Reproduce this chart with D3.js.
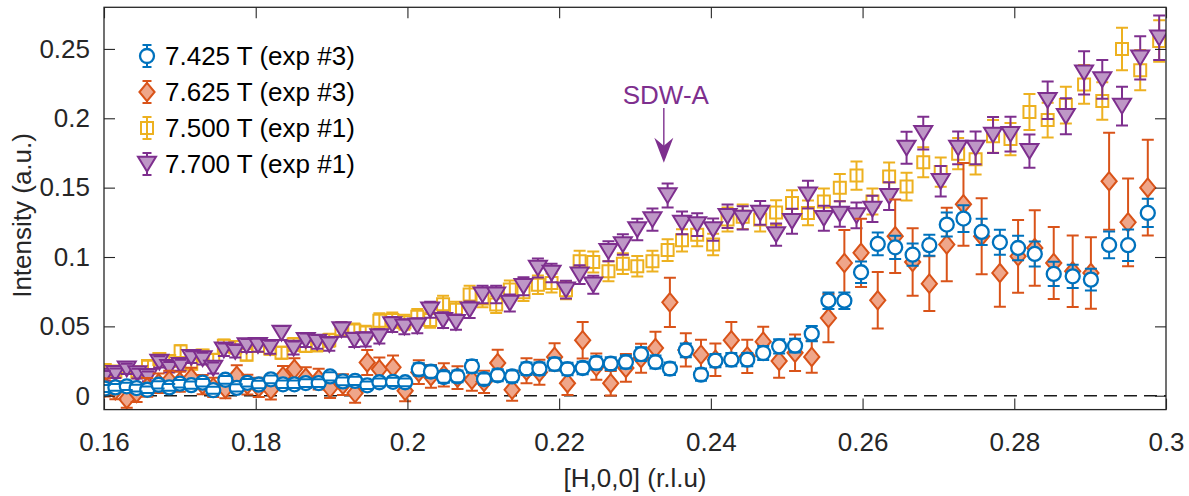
<!DOCTYPE html>
<html>
<head>
<meta charset="utf-8">
<script src="https://cdn.jsdelivr.net/npm/d3@7"></script>
<style>
  html, body { margin: 0; padding: 0; background: #fff; }
  svg text { font-family: "Liberation Sans", Arial, Helvetica, sans-serif; }
</style>
</head>
<body>
<svg id="chart" width="1189" height="496"></svg>
<script>
// H positions of the two scans (r.l.u.)
const hExp3 = [0.1601,0.1615,0.1630,0.1643,0.1657,0.1672,0.1686,0.1700,0.1715,0.1730,
  0.1744,0.1760,0.1775,0.1789,0.1804,0.1820,0.1836,0.1851,0.1866,0.1883,
  0.1898,0.1915,0.1931,0.1947,0.1963,0.1981,0.1997,0.2015,0.2031,0.2048,
  0.2066,0.2085,0.2101,0.2119,0.2138,0.2157,0.2174,0.2194,0.2211,0.2231,
  0.2249,0.2268,0.2288,0.2308,0.2327,0.2346,0.2367,0.2387,0.2406,0.2427,
  0.2448,0.2469,0.2490,0.2511,0.2533,0.2555,0.2576,0.2598,0.2620,0.2643,
  0.2666,0.2688,0.2711,0.2733,0.2757,0.2781,0.2805,0.2827,0.2852,0.2877,
  0.2901,0.2925,0.2950,0.2976];

const hExp1 = [0.1601,0.1615,0.1630,0.1644,0.1658,0.1673,0.1686,0.1701,0.1715,0.1730,
  0.1744,0.1758,0.1773,0.1788,0.1803,0.1819,0.1834,0.1850,0.1866,0.1881,
  0.1897,0.1913,0.1930,0.1945,0.1963,0.1980,0.1996,0.2013,0.2030,0.2047,
  0.2064,0.2082,0.2099,0.2117,0.2135,0.2153,0.2172,0.2190,0.2209,0.2227,
  0.2245,0.2265,0.2284,0.2303,0.2323,0.2343,0.2362,0.2382,0.2403,0.2422,
  0.2442,0.2465,0.2486,0.2507,0.2528,0.2549,0.2570,0.2592,0.2613,0.2635,
  0.2658,0.2680,0.2703,0.2726,0.2749,0.2772,0.2795,0.2820,0.2844,0.2868,
  0.2892,0.2916,0.2942,0.2966,0.2991];

// 7.425 T (exp #3)
const int7425 = [0.0052,0.0060,0.0068,0.0055,0.0043,0.0079,0.0060,0.0087,0.0076,0.0094,
  0.0040,0.0115,0.0056,0.0093,0.0081,0.0118,0.0082,0.0082,0.0091,0.0091,
  0.0139,0.0103,0.0107,0.0075,0.0097,0.0100,0.0097,0.0190,0.0174,0.0135,
  0.0139,0.0212,0.0120,0.0147,0.0139,0.0195,0.0195,0.0228,0.0192,0.0200,
  0.0236,0.0231,0.0243,0.0300,0.0243,0.0195,0.0327,0.0152,0.0253,0.0260,
  0.0260,0.0308,0.0356,0.0361,0.0447,0.0685,0.0685,0.0890,0.1094,0.1070,
  0.1017,0.1085,0.1234,0.1277,0.1181,0.1106,0.1065,0.1022,0.0878,0.0861,
  0.0837,0.1087,0.1085,0.1318];
const err7425 = [0.0025,0.0024,0.0026,0.0025,0.0024,0.0026,0.0025,0.0027,0.0026,0.0027,
  0.0025,0.0028,0.0026,0.0027,0.0027,0.0028,0.0027,0.0027,0.0028,0.0028,
  0.0030,0.0028,0.0029,0.0027,0.0028,0.0029,0.0028,0.0045,0.0044,0.0042,
  0.0042,0.0046,0.0041,0.0043,0.0042,0.0045,0.0045,0.0046,0.0045,0.0045,
  0.0047,0.0046,0.0047,0.0050,0.0047,0.0045,0.0050,0.0044,0.0047,0.0048,
  0.0048,0.0050,0.0052,0.0050,0.0055,0.0060,0.0060,0.0078,0.0082,0.0084,
  0.0080,0.0076,0.0087,0.0096,0.0094,0.0090,0.0088,0.0090,0.0087,0.0084,
  0.0078,0.0096,0.0114,0.0102];

// 7.625 T (exp #3)
const int7625 = [0.0060,0.0040,-0.0024,0.0020,0.0060,0.0090,0.0110,0.0100,0.0130,0.0080,
  0.0060,0.0050,0.0144,0.0080,0.0060,0.0043,0.0140,0.0192,0.0130,0.0120,
  0.0055,0.0080,0.0019,0.0240,0.0190,0.0205,0.0035,0.0170,0.0140,0.0150,
  0.0130,0.0115,0.0100,0.0236,0.0043,0.0180,0.0170,0.0280,0.0090,0.0400,
  0.0210,0.0090,0.0200,0.0270,0.0344,0.0673,0.0330,0.0296,0.0260,0.0400,
  0.0284,0.0390,0.0250,0.0310,0.0280,0.0560,0.0957,0.1030,0.0688,0.1150,
  0.0964,0.0808,0.1090,0.1380,0.1150,0.0885,0.1005,0.1065,0.0957,0.0897,
  0.0885,0.1546,0.1250,0.1500];
const err7625 = [0.0065,0.0065,0.0062,0.0066,0.0068,0.0070,0.0070,0.0072,0.0072,0.0070,
  0.0070,0.0068,0.0075,0.0072,0.0070,0.0070,0.0075,0.0078,0.0075,0.0075,
  0.0072,0.0074,0.0070,0.0090,0.0085,0.0085,0.0075,0.0085,0.0082,0.0084,
  0.0082,0.0080,0.0080,0.0095,0.0080,0.0090,0.0090,0.0099,0.0085,0.0132,
  0.0095,0.0088,0.0100,0.0105,0.0118,0.0177,0.0120,0.0108,0.0117,0.0132,
  0.0120,0.0108,0.0120,0.0132,0.0114,0.0174,0.0238,0.0246,0.0204,0.0265,
  0.0243,0.0198,0.0265,0.0298,0.0274,0.0243,0.0262,0.0272,0.0260,0.0258,
  0.0258,0.0349,0.0316,0.0345];

// 7.500 T (exp #1)
const int7500 = [0.0185,0.0175,0.0200,0.0170,0.0215,0.0265,0.0250,0.0320,0.0230,0.0290,
  0.0260,0.0360,0.0350,0.0296,0.0360,0.0340,0.0310,0.0370,0.0360,0.0365,
  0.0400,0.0480,0.0470,0.0455,0.0540,0.0545,0.0530,0.0570,0.0545,0.0660,
  0.0620,0.0730,0.0700,0.0657,0.0765,0.0746,0.0800,0.0813,0.0760,0.0970,
  0.0964,0.0897,0.0952,0.0933,0.0970,0.1050,0.1120,0.1160,0.1090,0.1270,
  0.1290,0.1270,0.1320,0.1390,0.1318,0.1400,0.1500,0.1587,0.1400,0.1580,
  0.1508,0.1683,0.1612,0.1745,0.1705,0.1870,0.1850,0.2045,0.1987,0.2095,
  0.2244,0.2124,0.2500,0.2347,0.2557];
const err7500 = [0.0035,0.0035,0.0036,0.0035,0.0037,0.0040,0.0039,0.0043,0.0039,0.0042,
  0.0040,0.0045,0.0045,0.0042,0.0045,0.0044,0.0043,0.0046,0.0045,0.0046,
  0.0047,0.0052,0.0051,0.0050,0.0055,0.0055,0.0054,0.0056,0.0055,0.0060,
  0.0058,0.0063,0.0063,0.0060,0.0065,0.0064,0.0067,0.0068,0.0065,0.0075,
  0.0075,0.0072,0.0075,0.0074,0.0075,0.0078,0.0080,0.0082,0.0078,0.0087,
  0.0088,0.0087,0.0090,0.0092,0.0090,0.0094,0.0098,0.0102,0.0094,0.0102,
  0.0100,0.0108,0.0105,0.0112,0.0110,0.0118,0.0116,0.0130,0.0125,0.0132,
  0.0140,0.0135,0.0153,0.0145,0.0150];

// 7.700 T (exp #1)
const int7700 = [0.0143,0.0162,0.0194,0.0160,0.0140,0.0244,0.0206,0.0220,0.0278,0.0268,
  0.0200,0.0332,0.0320,0.0362,0.0364,0.0350,0.0452,0.0344,0.0400,0.0388,
  0.0372,0.0478,0.0402,0.0405,0.0428,0.0514,0.0498,0.0505,0.0620,0.0545,
  0.0530,0.0620,0.0729,0.0729,0.0669,0.0789,0.0921,0.0885,0.0765,0.0873,
  0.0800,0.1041,0.1090,0.1198,0.1270,0.1443,0.1246,0.1234,0.1198,0.1294,
  0.1282,0.1318,0.1162,0.1258,0.1450,0.1280,0.1310,0.1300,0.1347,0.1438,
  0.1787,0.1893,0.1546,0.1787,0.1787,0.1880,0.1886,0.1763,0.2130,0.2015,
  0.2328,0.2280,0.2088,0.2436,0.2580];
const err7700 = [0.0035,0.0035,0.0037,0.0035,0.0035,0.0040,0.0038,0.0040,0.0042,0.0042,
  0.0040,0.0045,0.0045,0.0047,0.0047,0.0047,0.0050,0.0047,0.0049,0.0049,
  0.0048,0.0052,0.0050,0.0050,0.0051,0.0054,0.0054,0.0054,0.0058,0.0056,
  0.0055,0.0059,0.0063,0.0063,0.0061,0.0065,0.0068,0.0067,0.0064,0.0067,
  0.0065,0.0072,0.0074,0.0078,0.0080,0.0087,0.0082,0.0082,0.0080,0.0085,
  0.0084,0.0086,0.0080,0.0090,0.0100,0.0090,0.0092,0.0092,0.0094,0.0100,
  0.0115,0.0118,0.0110,0.0118,0.0118,0.0130,0.0125,0.0120,0.0135,0.0130,
  0.0156,0.0140,0.0140,0.0156,0.0160];

const seriesLabels = ["7.425 T (exp #3)", "7.625 T (exp #3)", "7.500 T (exp #1)", "7.700 T (exp #1)"];
const xTickValues = [0.16, 0.18, 0.2, 0.22, 0.24, 0.26, 0.28, 0.3];
const yTickValues = [0, 0.05, 0.1, 0.15, 0.2, 0.25];

// SDW-A marker: position along H and the vertical extent of the arrow (intensity units)
const sdwLabel = "SDW-A";
const sdwH = 0.2338;
const sdwArrowTop = 0.2075;
const sdwArrowTip = 0.1680;
const sdwTextBase = 0.2100;

// ---------------------------------------------------------------
const svg = d3.select("#chart");
const plot = { left: 104, right: 1166, top: 7.3, bottom: 409.6 };

const x = d3.scaleLinear().domain([0.16, 0.3]).range([plot.left, plot.right]);
const y = d3.scaleLinear().domain([-0.01, 0.28]).range([plot.bottom, plot.top]);

const axisColor = "#262626";
const fontSize = 26;
const fmt = d3.format("~g");

// marker outlines centred on (0,0)
const shapes = {
  circle: r => `M${r},0A${r},${r} 0 1,1 ${-r},0A${r},${r} 0 1,1 ${r},0Z`,
  diamond: () => "M0,-9.2L7.6,0L0,9.2L-7.6,0Z",
  square: () => "M-6,-6H6V6H-6Z",
  triangleDown: () => "M-9,-7.2L9,-7.2L0,7.6Z"
};

const series = [
  { key: "7500", label: seriesLabels[2], h: hExp1, v: int7500, e: err7500,
    color: "#EDB120", fill: "none", shape: shapes.square(), sw: 2 },
  { key: "7700", label: seriesLabels[3], h: hExp1, v: int7700, e: err7700,
    color: "#7E2F8E", fill: "#BE97C6", shape: shapes.triangleDown(), sw: 2 },
  { key: "7625", label: seriesLabels[1], h: hExp3, v: int7625, e: err7625,
    color: "#D95319", fill: "#EFA68A", shape: shapes.diamond(), sw: 2 },
  { key: "7425", label: seriesLabels[0], h: hExp3, v: int7425, e: err7425,
    color: "#0072BD", fill: "#ffffff", shape: shapes.circle(7), sw: 2.3 }
];

// clip to the axes box
svg.append("defs").append("clipPath").attr("id", "plotClip")
  .append("rect")
  .attr("x", plot.left).attr("y", plot.top)
  .attr("width", plot.right - plot.left).attr("height", plot.bottom - plot.top);

// zero reference line
svg.append("line")
  .attr("x1", x(0.16)).attr("x2", x(0.3))
  .attr("y1", y(0)).attr("y2", y(0))
  .attr("stroke", "#1a1a1a").attr("stroke-width", 1.3)
  .attr("stroke-dasharray", "13,7");

const dataLayer = svg.append("g").attr("clip-path", "url(#plotClip)");
const capHalf = 6;

series.forEach(s => {
  const pts = s.h.map((h, i) => ({ h, v: s.v[i], e: s.e[i] }));
  const g = dataLayer.append("g").attr("class", "series-" + s.key);

  g.selectAll("line.stem").data(pts).join("line")
    .attr("class", "stem")
    .attr("x1", d => x(d.h)).attr("x2", d => x(d.h))
    .attr("y1", d => y(d.v - d.e)).attr("y2", d => y(d.v + d.e))
    .attr("stroke", s.color).attr("stroke-width", 2);

  g.selectAll("path.mark").data(pts).join("path")
    .attr("class", "mark")
    .attr("d", s.shape)
    .attr("transform", d => `translate(${x(d.h)},${y(d.v)})`)
    .attr("fill", s.fill)
    .attr("stroke", s.color).attr("stroke-width", s.sw);

  ["lo", "hi"].forEach(side => {
    g.selectAll("line.cap-" + side).data(pts).join("line")
      .attr("class", "cap-" + side)
      .attr("x1", d => x(d.h) - capHalf).attr("x2", d => x(d.h) + capHalf)
      .attr("y1", d => y(side === "lo" ? d.v - d.e : d.v + d.e))
      .attr("y2", d => y(side === "lo" ? d.v - d.e : d.v + d.e))
      .attr("stroke", s.color).attr("stroke-width", 2);
  });
});

// axes (ticks pointing into the box on all four sides)
function styleAxis(g) {
  g.select(".domain").remove();
  g.selectAll(".tick line").attr("stroke", axisColor).attr("stroke-width", 1.1);
  g.selectAll(".tick text").attr("fill", axisColor)
    .style("font-size", fontSize + "px")
    .style("font-family", "'Liberation Sans', Arial, sans-serif");
}

svg.append("g")
  .attr("transform", `translate(0,${plot.bottom})`)
  .call(d3.axisBottom(x).tickValues(xTickValues).tickFormat(fmt)
    .tickSizeInner(-11).tickSizeOuter(0).tickPadding(23))
  .call(styleAxis);

svg.append("g")
  .attr("transform", `translate(0,${plot.top})`)
  .call(d3.axisTop(x).tickValues(xTickValues).tickFormat("")
    .tickSizeInner(-11).tickSizeOuter(0))
  .call(styleAxis);

svg.append("g")
  .attr("transform", `translate(${plot.left},0)`)
  .call(d3.axisLeft(y).tickValues(yTickValues).tickFormat(fmt)
    .tickSizeInner(-11).tickSizeOuter(0).tickPadding(14))
  .call(styleAxis);

svg.append("g")
  .attr("transform", `translate(${plot.right},0)`)
  .call(d3.axisRight(y).tickValues(yTickValues).tickFormat("")
    .tickSizeInner(-11).tickSizeOuter(0))
  .call(styleAxis);

// axes box
svg.append("rect")
  .attr("x", plot.left).attr("y", plot.top)
  .attr("width", plot.right - plot.left).attr("height", plot.bottom - plot.top)
  .attr("fill", "none").attr("stroke", axisColor).attr("stroke-width", 1.3);

// axis titles
svg.append("text")
  .attr("x", (plot.left + plot.right) / 2).attr("y", 487)
  .attr("text-anchor", "middle").attr("fill", axisColor)
  .style("font-size", fontSize + "px")
  .text("[H,0,0] (r.l.u)");

svg.append("text")
  .attr("transform", `translate(31,${(plot.top + plot.bottom) / 2 + 7}) rotate(-90)`)
  .attr("text-anchor", "middle").attr("fill", axisColor)
  .style("font-size", fontSize + "px")
  .text("Intensity (a.u.)");

// SDW-A annotation
const annColor = "#7E2F8E";
svg.append("text")
  .attr("x", x(sdwH) + 2).attr("y", y(sdwTextBase))
  .attr("text-anchor", "middle").attr("fill", annColor)
  .style("font-size", fontSize + "px")
  .text(sdwLabel);
svg.append("line")
  .attr("x1", x(sdwH)).attr("x2", x(sdwH))
  .attr("y1", y(sdwArrowTop)).attr("y2", y(sdwArrowTip) - 12)
  .attr("stroke", annColor).attr("stroke-width", 1.4);
svg.append("path")
  .attr("d", "M0,0L-9.5,-25L0,-17L9.5,-25Z")
  .attr("transform", `translate(${x(sdwH)},${y(sdwArrowTip)})`)
  .attr("fill", annColor);

// legend
const legendOrder = ["7425", "7625", "7500", "7700"];
const legend = svg.append("g").attr("class", "legend");
legendOrder.forEach((k, i) => {
  const s = series.find(d => d.key === k);
  const cy = 56 + i * 36, cx = 147;
  const g = legend.append("g").attr("transform", `translate(${cx},${cy})`);
  g.append("line").attr("x1", 0).attr("x2", 0).attr("y1", -11).attr("y2", 11)
    .attr("stroke", s.color).attr("stroke-width", 2);
  g.append("path").attr("d", s.shape).attr("fill", s.fill)
    .attr("stroke", s.color).attr("stroke-width", s.sw);
  [-11, 11].forEach(yy => g.append("line")
    .attr("x1", -4.5).attr("x2", 4.5).attr("y1", yy).attr("y2", yy)
    .attr("stroke", s.color).attr("stroke-width", 2));
  legend.append("text")
    .attr("x", cx + 18).attr("y", cy).attr("dy", "0.35em")
    .attr("fill", "#000")
    .style("font-size", fontSize + "px")
    .text(s.label);
});
</script>
</body>
</html>
